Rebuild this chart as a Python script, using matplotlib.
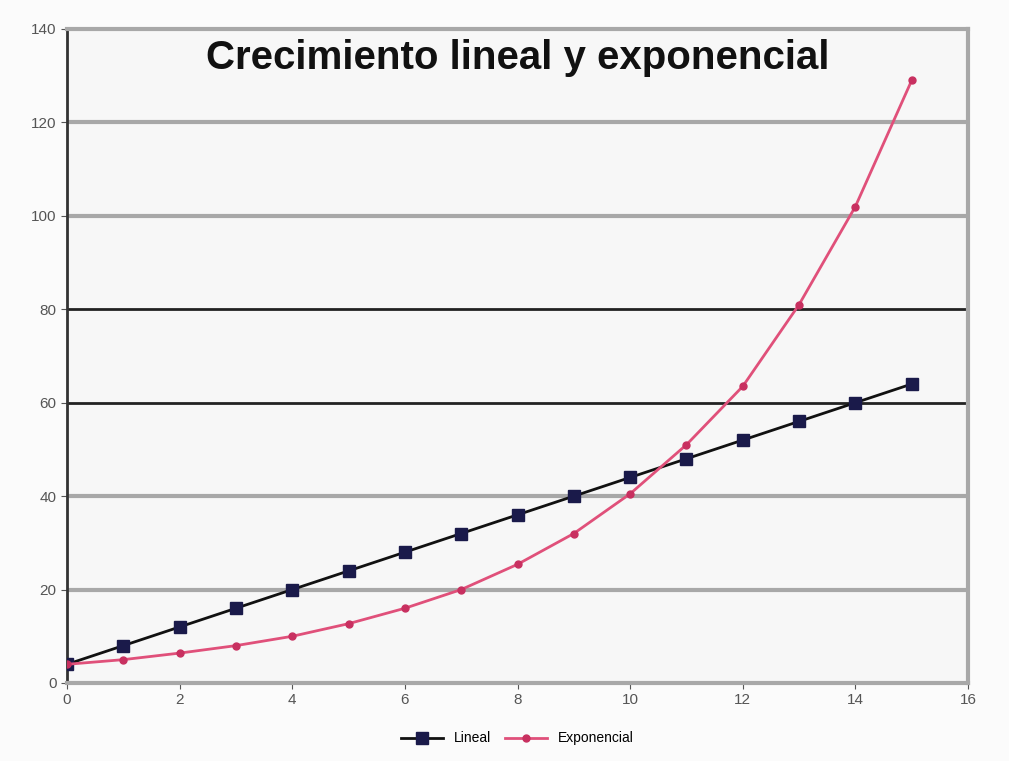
import matplotlib
matplotlib.use("Agg")
import matplotlib.pyplot as plt

x = list(range(16))
lineal = [4, 8, 12, 16, 20, 24, 28, 32, 36, 40, 44, 48, 52, 56, 60, 64]
exponencial = [4, 5, 6.4, 8, 10, 12.7, 16, 20, 25.4, 32, 40.5, 51, 63.5, 81, 102, 129]
xticks = [0, 2, 4, 6, 8, 10, 12, 14, 16]
yticks = [0, 20, 40, 60, 80, 100, 120, 140]

plt.rcParams['font.family'] = ['Liberation Sans', 'DejaVu Sans']
fig = plt.figure(figsize=(10.09, 7.61), dpi=100)
fig.patch.set_facecolor('#fbfbfb')
ax = fig.add_axes([67/1009, 1-683/761, (968-67)/1009, (683-29)/761])
ax.set_facecolor('#f7f7f7')
ax.set_xlim(0, 16)
ax.set_ylim(0, 140)
ax.set_xticks(xticks)
ax.set_yticks(yticks)
for yv in yticks[1:-1]:
    if yv in (60, 80):
        ax.axhline(yv, color='#222222', lw=2, zorder=1)
    else:
        ax.axhline(yv, color='#a8a8a8', lw=3, zorder=1)

ax.plot(x, lineal, color='#111111', lw=2, marker='s', markersize=8,
        markerfacecolor='#1a1a4a', markeredgecolor='#1a1a4a', label='Lineal', zorder=3)
ax.plot(x, exponencial, color='#e0507a', lw=2, marker='o', markersize=5,
        markerfacecolor='#c83060', markeredgecolor='#c83060', label='Exponencial', zorder=3)

for s in ['top', 'right', 'bottom']:
    ax.spines[s].set_color('#a8a8a8')
    ax.spines[s].set_linewidth(3)
ax.spines['left'].set_color('#333333')
ax.spines['left'].set_linewidth(2)
ax.tick_params(axis='both', labelsize=11, colors='#555555', length=4)

ax.text(0.5, 0.955, 'Crecimiento lineal y exponencial', transform=ax.transAxes,
        ha='center', va='center', fontsize=29, fontweight='bold', color='#111111')

ax.legend(loc='upper center', bbox_to_anchor=(0.5, -0.055), ncol=2, frameon=False,
          fontsize=10, handlelength=3, columnspacing=1.0)

fig.savefig('out.png', dpi=100, facecolor=fig.get_facecolor())
